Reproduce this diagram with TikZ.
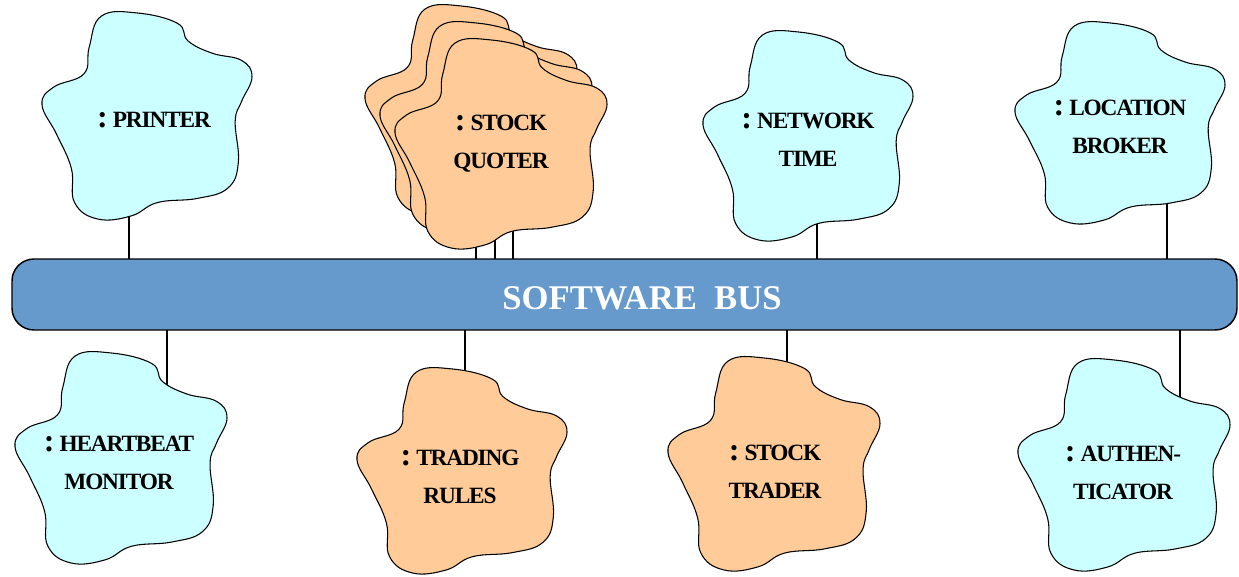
\documentclass[tikz,border=0pt]{standalone}
\usepackage{fontspec}
\setmainfont{Liberation Serif}
\newfontfamily\tightfont[LetterSpace=-5]{Liberation Serif}
\definecolor{blobcyan}{HTML}{CCFFFF}
\definecolor{bloborange}{HTML}{FFCC99}
\definecolor{busblue}{HTML}{6699CC}
\newcommand\myblob[4]{%
  \draw[blobline,fill=#4,shift={(#1)},xscale=#2,yscale=-#3]
    plot[smooth cycle,tension=0.7] coordinates {
      (-0.435,0.97) (-0.09,1.0) (0.29,0.90) (0.39,0.73) (0.62,0.61)
      (0.90,0.54) (1.0,0.38) (0.90,0.14) (0.84,-0.05) (0.87,-0.45)
      (0.77,-0.70) (0.48,-0.80) (0.10,-0.84) (-0.15,-0.97) (-0.47,-1.0)
      (-0.69,-0.84) (-0.72,-0.51) (-0.86,-0.18) (-1.0,0.11) (-0.89,0.28)
      (-0.60,0.41) (-0.55,0.67)};}
\newcommand\cln{{\fontsize{24}{28}\selectfont :}\hspace{0.22em}}
\tikzset{
  blobline/.style={draw=black,line width=0.8pt},
  stem/.style={draw=black,line width=1.1pt},
  lbl/.style={align=center,inner sep=0pt,font=\tightfont\fontsize{17.5}{28.5}\selectfont\bfseries},
  busbox/.style={draw=black,line width=1.1pt,fill=busblue,rounded corners=16.5pt,
    minimum width=918.75pt,minimum height=53.25pt,outer sep=0pt,inner sep=0pt},
  bustext/.style={text=white,inner sep=0pt,font=\fontsize{26}{30}\selectfont\bfseries}
}
\begin{document}
\begin{tikzpicture}[x=0.75pt,y=-0.75pt]
\useasboundingbox (0,0) rectangle (1239,576);
% bus
\node[busbox] (bus) at (624.5,294.5) {};
\node[bustext] (bustxt) at (642,298) {SOFTWARE\hspace{0.5em}BUS};
% stems
\coordinate (s1) at (129,205);
\coordinate (s2a) at (476,230);
\coordinate (s2b) at (495,230);
\coordinate (s2c) at (513,230);
\coordinate (s3) at (817,215);
\coordinate (s4) at (1167,195);
\coordinate (s5) at (167,392);
\coordinate (s6) at (465,380);
\coordinate (s7) at (787,375);
\coordinate (s8) at (1180,405);
\foreach \s in {s1,s2a,s2b,s2c,s3,s4}{\draw[stem] (\s) -- (\s |- bus.north);}
\foreach \s in {s5,s6,s7,s8}{\draw[stem] (bus.south -| \s) -- (\s);}
% blobs
\myblob{147,116}{105}{103}{blobcyan}
\myblob{471,110}{106}{104}{bloborange}
\myblob{486,127}{106}{104}{bloborange}
\myblob{501,144}{106}{104}{bloborange}
\myblob{808,136}{105}{104}{blobcyan}
\myblob{1120,123}{105}{100}{blobcyan}
\myblob{121,458}{106}{105}{blobcyan}
\myblob{462,471}{105}{102}{bloborange}
\myblob{774,464}{106}{106}{bloborange}
\myblob{1124,465}{106}{105}{blobcyan}
% labels
\node[lbl] (printer) at (154,120) {\cln PRINTER};
\node[lbl] (quoter) at (501,144) {\cln STOCK\\QUOTER};
\node[lbl] (nettime) at (808,140) {\cln NETWORK\\TIME};
\node[lbl] (locbroker) at (1120,126.5) {\cln LOCATION\\BROKER};
\node[lbl] (heartbeat) at (119,463) {\cln HEARTBEAT\\MONITOR};
\node[lbl] (trading) at (460,476.5) {\cln TRADING\\RULES};
\node[lbl] (trader) at (775,471.5) {\cln STOCK\\TRADER};
\node[lbl] (auth) at (1123,473) {\cln AUTHEN-\\TICATOR};
\end{tikzpicture}
\end{document}
